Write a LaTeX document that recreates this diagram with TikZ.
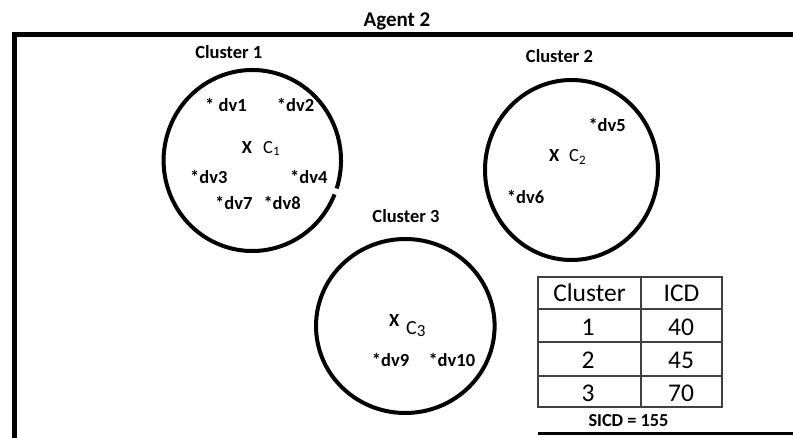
\documentclass[tikz,border=0pt]{standalone}
\usepackage{fontspec}
\setmainfont{Carlito}
\usetikzlibrary{shapes.geometric}
\begin{document}
\begin{tikzpicture}[x=1pt,y=-1pt,
  frame/.style={line width=5pt},
  ring/.style={line width=4pt},
  gridline/.style={line width=1.1pt, draw=black!75},
  lbl/.style={font=\fontsize{18.5}{20}\selectfont\bfseries, inner sep=0pt, anchor=base west},
  ttl/.style={font=\fontsize{18.5}{20}\selectfont\bfseries, inner sep=0pt, anchor=base},
  cen/.style={font=\fontsize{18.5}{20}\selectfont, inner sep=0pt, anchor=base west},
  cell/.style={font=\fontsize{25.5}{27}\selectfont, inner sep=0pt, anchor=base}]
\useasboundingbox (0,0) rectangle (793,438);
\fill[white] (0,0) rectangle (793,438);
% frame
\coordinate (fTL) at (14.5,34.5);
\coordinate (fTR) at (793,34.5);
\coordinate (fBL) at (14.5,438);
\draw[frame] (fTR) -- (fTL) -- (fBL);
\node[ttl, font=\fontsize{21}{22}\selectfont\bfseries] (agent) at (397,26.5) {Agent 2};
% cluster 1 (ring with a small break on the lower right)
\begin{scope}[x=1pt,y=1pt]
\coordinate (c1) at (252.3,-160.5);
\coordinate (c1start) at (336.66,-188.47);
\draw[ring] (c1start) arc[start angle=-18, end angle=338, x radius=88.7, y radius=90.5];
\end{scope}
\node[ttl] (cl1) at (228.8,58.3) {Cluster 1};
\node[lbl] (dv1) at (205,111.7) {* dv1};
\node[lbl] (dv2) at (276.7,111.7) {*dv2};
\node[lbl] (x1) at (241.7,153.3) {X};
\node[cen] (C1) at (263,153.3) {C\textsubscript{1}};
\node[lbl] (dv3) at (190,183.3) {*dv3};
\node[lbl] (dv4) at (290,183.3) {*dv4};
\node[lbl] (dv7) at (215,210) {*dv7};
\node[lbl] (dv8) at (263.3,210) {*dv8};
% cluster 2
\node[draw, ring, ellipse, minimum width=173pt, minimum height=180pt, inner sep=0pt] (c2) at (571.5,170) {};
\node[ttl] (cl2) at (559.5,62.7) {Cluster 2};
\node[lbl] (dv5) at (588.3,131.7) {*dv5};
\node[lbl] (x2) at (549,161.7) {X};
\node[cen] (C2) at (569,161.7) {C\textsubscript{2}};
\node[lbl] (dv6) at (506.7,203.3) {*dv6};
% cluster 3
\node[draw, ring, ellipse, minimum width=178.6pt, minimum height=174pt, inner sep=0pt] (c3) at (405.3,326) {};
\node[ttl] (cl3) at (406,223) {Cluster 3};
\node[lbl] (x3) at (389,326.7) {X};
\node[cen, font=\fontsize{20}{22}\selectfont] (C3) at (406,335) {C\raisebox{-2pt}{\fontsize{17}{18}\selectfont 3}};
\node[lbl] (dv9) at (371.7,366.7) {*dv9};
\node[lbl] (dv10) at (428.3,366.7) {*dv10};
% table
\draw[gridline] (538,277) rectangle (722,407);
\draw[gridline] (538,309) -- (722,309);
\draw[gridline] (538,342) -- (722,342);
\draw[gridline] (538,376) -- (722,376);
\draw[gridline] (641,277) -- (641,407);
\node[cell] (h1) at (589.5,301.7) {Cluster};
\node[cell] (h2) at (681.5,301.7) {ICD};
\node[cell] (r1a) at (588,335.5) {1};
\node[cell] (r1b) at (681,335.5) {40};
\node[cell] (r2a) at (588,369) {2};
\node[cell] (r2b) at (681,369) {45};
\node[cell] (r3a) at (588,402) {3};
\node[cell] (r3b) at (681,402) {70};
\node[ttl, font=\fontsize{18.3}{20}\selectfont\bfseries] (sicd) at (628.5,427) {SICD = 155};
\coordinate (sL) at (538,433.5);
\coordinate (sR) at (793,433.5);
\draw[line width=2.5pt] (sL) -- (sR);
\end{tikzpicture}
\end{document}
